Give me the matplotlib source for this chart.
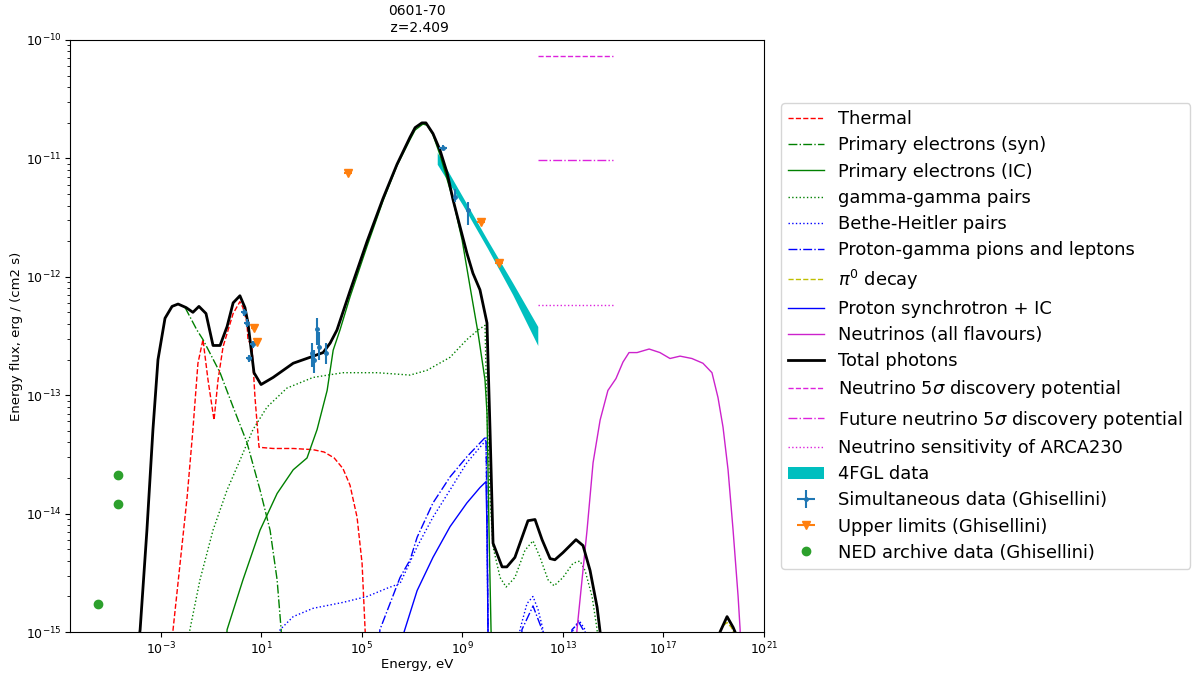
import matplotlib
matplotlib.use("Agg")
import matplotlib.pyplot as plt
import numpy as np
from matplotlib.ticker import NullLocator, FixedLocator

# All values are log10(E / eV) and log10(flux / erg cm^-2 s^-1)

thermal_x = [-2.60, -2.51, -2.23, -1.95, -1.72, -1.52, -1.32, -1.12, -0.88, -0.72, -0.52, -0.32, -0.12, 0.15, 0.27, 0.43, 0.47, 0.63, 0.75, 0.91, 1.47, 2.27, 3.06, 3.50, 3.90, 4.25, 4.53, 4.81, 5.01, 5.13, 5.20]
thermal_y = [-15.3, -14.98, -14.42, -13.86, -13.29, -12.73, -12.53, -12.87, -13.21, -12.87, -12.59, -12.45, -12.31, -12.21, -12.26, -12.39, -12.53, -12.59, -13.02, -13.44, -13.45, -13.45, -13.46, -13.48, -13.53, -13.62, -13.76, -14.03, -14.42, -14.98, -15.3]

syn_x = [-2.03, -1.56, -1.32, -0.64, -0.12, 0.43, 0.95, 1.35, 1.63, 1.79, 1.85]
syn_y = [-12.26, -12.45, -12.53, -12.81, -13.10, -13.40, -13.80, -14.14, -14.56, -14.98, -15.3]

ic_x = [-0.45, -0.36, 0.27, 0.95, 1.63, 2.27, 2.82, 3.22, 3.62, 3.86, 4.13, 4.53, 5.21, 5.84, 6.40, 6.92, 7.12, 7.43, 7.60, 7.83, 8.11, 8.63, 8.99, 9.31, 9.62, 9.90, 9.98, 10.06, 10.14, 10.20]
ic_y = [-15.3, -14.98, -14.56, -14.14, -13.83, -13.63, -13.53, -13.29, -12.96, -12.62, -12.45, -12.17, -11.74, -11.36, -11.06, -10.84, -10.76, -10.71, -10.72, -10.80, -10.97, -11.35, -11.69, -12.09, -12.47, -12.87, -13.15, -14.14, -14.98, -15.3]

gg_x = [-1.95, -1.84, -1.44, -0.92, -0.36, 0.15, 0.67, 1.23, 2.02, 3.06, 4.25, 5.61, 6.92, 7.59, 8.51, 9.18, 9.62, 9.90, 9.98, 10.10, 10.22, 10.50, 10.74, 11.09, 11.49, 11.81, 12.09, 12.41, 12.65, 13.00, 13.40, 13.68, 13.88, 14.16, 14.36, 14.45]
gg_y = [-15.3, -14.98, -14.56, -14.14, -13.80, -13.55, -13.29, -13.10, -12.94, -12.85, -12.81, -12.81, -12.83, -12.79, -12.68, -12.53, -12.45, -12.41, -13.15, -13.86, -14.28, -14.54, -14.62, -14.54, -14.31, -14.23, -14.37, -14.56, -14.61, -14.54, -14.42, -14.40, -14.48, -14.70, -14.98, -15.3]

bh_x = [1.65, 1.75, 2.27, 3.06, 4.25, 5.21, 6.01, 6.52, 7.20, 7.83, 8.51, 9.18, 9.70, 9.94, 9.98, 10.02, 10.10, 11.15, 11.29, 11.57, 11.81, 12.01, 12.21, 12.35, 13.30, 13.40, 13.64, 13.88, 13.98]
bh_y = [-15.3, -14.98, -14.87, -14.80, -14.75, -14.70, -14.63, -14.59, -14.28, -14.03, -13.80, -13.57, -13.44, -13.38, -14.14, -14.98, -16.0, -16.0, -14.98, -14.76, -14.70, -14.81, -14.98, -16.0, -16.0, -14.98, -14.90, -14.98, -15.3]

pg_x = [5.62, 5.72, 6.52, 6.92, 7.20, 7.83, 8.51, 9.18, 9.94, 9.99, 10.02, 10.10, 11.25, 11.37, 11.81, 12.17, 12.30, 13.25, 13.36, 13.64, 13.80, 13.90]
pg_y = [-15.3, -14.98, -14.54, -14.39, -14.20, -13.91, -13.69, -13.52, -13.35, -14.14, -14.98, -16.0, -16.0, -14.98, -14.78, -14.98, -16.0, -16.0, -14.98, -14.92, -14.98, -15.3]

pi0_x = [19.05, 19.20, 19.35, 19.53, 19.70, 19.82, 19.95]
pi0_y = [-15.3, -15.02, -14.95, -14.92, -14.96, -15.02, -15.3]

psyn_x = [6.58, 6.68, 7.20, 7.83, 8.51, 9.18, 9.70, 9.94, 9.98, 10.02, 10.10]
psyn_y = [-15.3, -15.0, -14.65, -14.37, -14.11, -13.91, -13.78, -13.73, -14.14, -15.0, -15.3]

nu_x = [13.48, 13.56, 13.76, 13.96, 14.20, 14.48, 14.79, 15.11, 15.39, 15.63, 15.95, 16.43, 16.86, 17.26, 17.66, 18.13, 18.57, 18.93, 19.17, 19.37, 19.57, 19.77, 19.97, 20.05, 20.08]
nu_y = [-15.3, -14.98, -14.56, -14.14, -13.57, -13.21, -12.96, -12.86, -12.72, -12.64, -12.64, -12.61, -12.64, -12.69, -12.67, -12.69, -12.73, -12.81, -13.02, -13.27, -13.63, -14.14, -14.70, -14.98, -15.3]

tot_x = [-3.95, -3.82, -3.55, -3.31, -3.11, -2.91, -2.83, -2.55, -2.31, -1.99, -1.72, -1.48, -1.20, -0.92, -0.64, -0.36, -0.12, 0.15, 0.35, 0.47, 0.55, 0.71, 0.99, 1.47, 2.27, 2.94, 3.46, 3.74, 4.01, 4.53, 5.21, 5.84, 6.40, 6.92, 7.12, 7.39, 7.55, 7.83, 8.11, 8.39, 8.63, 8.91, 9.18, 9.42, 9.70, 9.90, 9.98, 10.02, 10.10, 10.22, 10.58, 10.77, 11.09, 11.61, 11.89, 12.17, 12.49, 12.68, 13.00, 13.52, 13.80, 14.08, 14.36, 14.48, 14.70, 19.00, 19.25, 19.53, 19.77, 19.85, 20.00]
tot_y = [-15.2, -14.98, -14.14, -13.29, -12.70, -12.45, -12.35, -12.25, -12.23, -12.26, -12.30, -12.25, -12.31, -12.58, -12.58, -12.42, -12.22, -12.16, -12.26, -12.39, -12.53, -12.81, -12.91, -12.85, -12.73, -12.68, -12.64, -12.56, -12.45, -12.12, -11.70, -11.34, -11.05, -10.82, -10.74, -10.70, -10.70, -10.79, -10.93, -11.12, -11.35, -11.58, -11.80, -11.97, -12.11, -12.31, -12.39, -12.70, -13.29, -14.25, -14.45, -14.45, -14.37, -14.06, -14.05, -14.22, -14.38, -14.39, -14.33, -14.22, -14.27, -14.48, -14.79, -15.0, -15.8, -15.8, -15.0, -14.87, -14.96, -15.0, -15.8]

# neutrino 5 sigma / sensitivity levels, 1e12 - 1e15 eV
nulim_x = [12.0, 15.0]
disc_y = -10.135
future_y = -11.01
arca_y = -12.24

# 4FGL butterfly
fgl_x = [8.0, 9.0, 10.0, 11.0, 12.0]
fgl_hi = [-10.95, -11.32, -11.69, -12.05, -12.42]
fgl_lo = [-11.05, -11.39, -11.76, -12.15, -12.58]

# simultaneous data (Ghisellini)
sim_x = [0.31, 0.43, 0.67, 0.51, 3.02, 3.10, 3.22, 3.30, 3.58, 8.23, 8.71, 9.22]
sim_y = [-12.30, -12.39, -12.57, -12.69, -12.64, -12.70, -12.44, -12.59, -12.64, -10.91, -11.33, -11.44]
sim_lo = [-12.33, -12.42, -12.60, -12.72, -12.76, -12.81, -12.58, -12.70, -12.74, -10.93, -11.37, -11.56]
sim_hi = [-12.27, -12.36, -12.54, -12.66, -12.56, -12.62, -12.35, -12.47, -12.56, -10.89, -11.26, -11.37]
sim_dx = [0.12, 0.12, 0.12, 0.12, 0.05, 0.05, 0.05, 0.05, 0.05, 0.15, 0.05, 0.05]

# upper limits (Ghisellini)
ul_x = [0.71, 0.83, 4.46, 9.74, 10.46]
ul_y = [-12.43, -12.55, -11.12, -11.54, -11.88]
ul_dx = [0.1, 0.1, 0.15, 0.15, 0.15]

# NED archive
ned_x = [-5.49, -4.70, -4.70]
ned_y = [-14.76, -13.67, -13.92]


def ten(a):
    return 10.0 ** np.asarray(a, dtype=float)


fig = plt.figure(figsize=(11.93, 6.78), dpi=100)
ax = fig.add_axes([70 / 1193, 46 / 678, 694 / 1193, 592 / 678])

handles = []
h, = ax.plot(ten(thermal_x), ten(thermal_y), 'r--', lw=1, label='Thermal'); handles.append(h)
h, = ax.plot(ten(syn_x), ten(syn_y), 'g-.', lw=1, label='Primary electrons (syn)'); handles.append(h)
h, = ax.plot(ten(ic_x), ten(ic_y), 'g-', lw=1, label='Primary electrons (IC)'); handles.append(h)
h, = ax.plot(ten(gg_x), ten(gg_y), 'g:', lw=1, label='gamma-gamma pairs'); handles.append(h)
h, = ax.plot(ten(bh_x), ten(bh_y), 'b:', lw=1, label='Bethe-Heitler pairs'); handles.append(h)
h, = ax.plot(ten(pg_x), ten(pg_y), 'b-.', lw=1, label='Proton-gamma pions and leptons'); handles.append(h)
h, = ax.plot(ten(pi0_x), ten(pi0_y), 'y--', lw=1, label=r'$\pi^0$ decay'); handles.append(h)
h, = ax.plot(ten(psyn_x), ten(psyn_y), 'b-', lw=1, label='Proton synchrotron + IC'); handles.append(h)
h, = ax.plot(ten(nu_x), ten(nu_y), '-', color='#cc22cc', lw=1, label='Neutrinos (all flavours)'); handles.append(h)
h, = ax.plot(ten(tot_x), ten(tot_y), 'k-', lw=2, label='Total photons'); handles.append(h)
h, = ax.plot(ten(nulim_x), ten([disc_y, disc_y]), '--', color='#dd22dd', lw=1,
             label=r'Neutrino 5$\sigma$ discovery potential'); handles.append(h)
h, = ax.plot(ten(nulim_x), ten([future_y, future_y]), '-.', color='#dd22dd', lw=1,
             label=r'Future neutrino 5$\sigma$ discovery potential'); handles.append(h)
h, = ax.plot(ten(nulim_x), ten([arca_y, arca_y]), ':', color='#dd22dd', lw=1,
             label='Neutrino sensitivity of ARCA230'); handles.append(h)
h = ax.fill_between(ten(fgl_x), ten(fgl_lo), ten(fgl_hi), color='c', lw=0, label='4FGL data'); handles.append(h)

sx, sy = ten(sim_x), ten(sim_y)
h = ax.errorbar(sx, sy, yerr=[sy - ten(sim_lo), ten(sim_hi) - sy],
                xerr=[sx - ten(np.array(sim_x) - sim_dx), ten(np.array(sim_x) + sim_dx) - sx],
                fmt='.', color='C0', ms=5, elinewidth=1.5, label='Simultaneous data (Ghisellini)')
handles.append(h)
ux, uy = ten(ul_x), ten(ul_y)
h = ax.errorbar(ux, uy, xerr=[ux - ten(np.array(ul_x) - ul_dx), ten(np.array(ul_x) + ul_dx) - ux],
                fmt='v', color='C1', ms=6, elinewidth=1.5, label='Upper limits (Ghisellini)')
handles.append(h)
h, = ax.plot(ten(ned_x), ten(ned_y), 'o', color='C2', ms=6, ls='none', label='NED archive data (Ghisellini)')
handles.append(h)

ax.set_xscale('log')
ax.set_yscale('log')
ax.set_xlim(10 ** -6.61, 1e21)
ax.set_ylim(1e-15, 1e-10)
ax.set_xticks([10.0 ** k for k in range(-3, 22, 4)])
ax.xaxis.set_minor_locator(NullLocator())
ax.set_yticks([10.0 ** k for k in range(-15, -9)])
ax.yaxis.set_minor_locator(FixedLocator([m * 10.0 ** k for k in range(-15, -10) for m in range(2, 10)]))
ax.tick_params(axis='both', which='major', labelsize=9, pad=2.5)
ax.set_xlabel('Energy, eV', fontsize=9.5, labelpad=1)
ax.set_ylabel('Energy flux, erg / (cm2 s)', fontsize=9.5, labelpad=2)
ax.set_title('0601-70\n z=2.409', fontsize=10)

ax.legend(handles, [hh.get_label() for hh in handles], loc='center left',
          bbox_to_anchor=(1.012, 0.5), fontsize=12.85, labelspacing=0.46)

fig.savefig('out.png', dpi=100)
